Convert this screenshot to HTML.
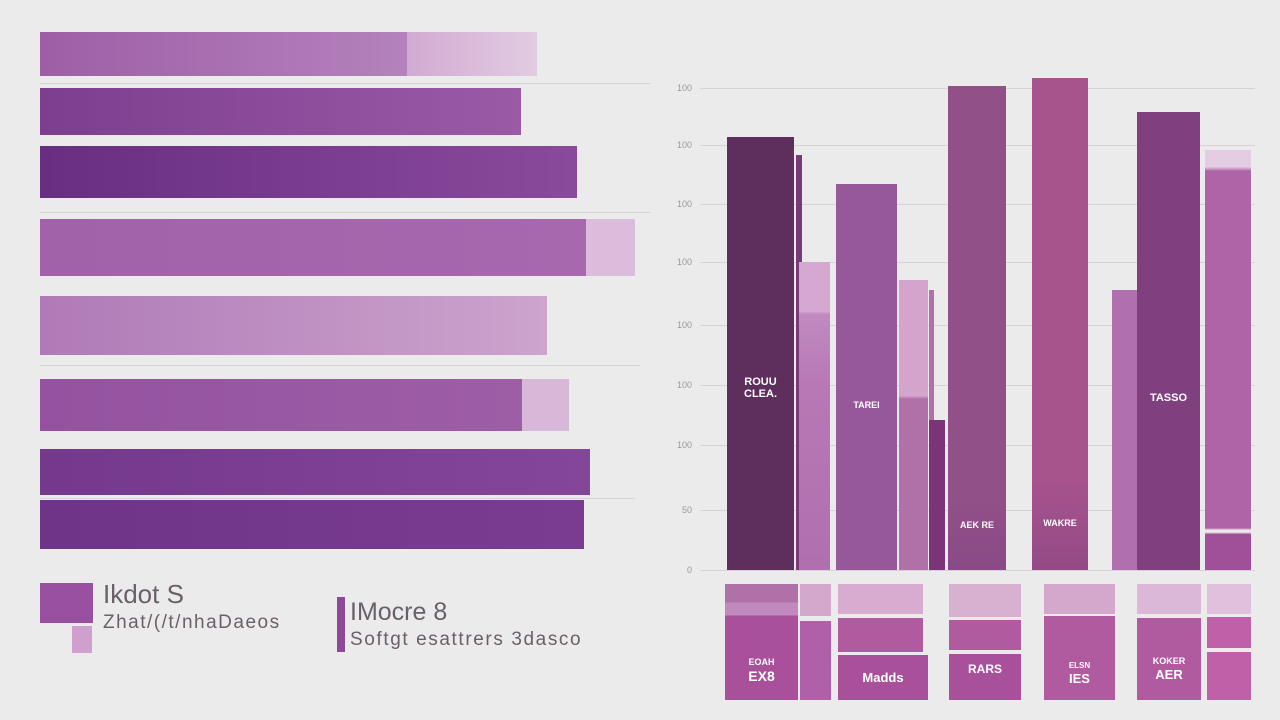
<!DOCTYPE html>
<html><head><meta charset="utf-8"><style>
body{margin:0;width:1280px;height:720px;background:#ecebec;position:relative;overflow:hidden;font-family:"Liberation Sans",sans-serif}
div{position:absolute}
.g{height:1px;background:#d8d2d8}
.t{color:#fff;font-weight:bold;font-size:11px;text-align:center}
.yl{left:668px;width:24px;font-size:9px;color:#999;text-align:right}
</style></head><body>
<div class="g" style="left:40px;top:83px;width:610px"></div>
<div class="g" style="left:40px;top:212px;width:610px"></div>
<div class="g" style="left:40px;top:365px;width:600px"></div>
<div class="g" style="left:40px;top:498px;width:595px"></div>
<div style="left:40px;top:32px;width:367px;height:44px;background:linear-gradient(90deg,#9e5ea6,#b482bc)"></div>
<div style="left:407px;top:32px;width:130px;height:44px;background:linear-gradient(90deg,#d2aad2,#e2cce2)"></div>
<div style="left:40px;top:88px;width:481px;height:47px;background:linear-gradient(90deg,#7e3e90,#9a5aa6)"></div>
<div style="left:40px;top:146px;width:537px;height:52px;background:linear-gradient(90deg,#682e82,#8a4a9c)"></div>
<div style="left:40px;top:219px;width:546px;height:57px;background:linear-gradient(90deg,#a262aa,#a868ae)"></div>
<div style="left:586px;top:219px;width:49px;height:57px;background:#dcbcdc"></div>
<div style="left:40px;top:296px;width:507px;height:59px;background:linear-gradient(90deg,#b07ab8,#cca4cc)"></div>
<div style="left:40px;top:379px;width:482px;height:52px;background:linear-gradient(90deg,#9452a0,#9e5ea6)"></div>
<div style="left:522px;top:379px;width:47px;height:52px;background:#d8b8d8"></div>
<div style="left:40px;top:449px;width:550px;height:46px;background:linear-gradient(90deg,#74388c,#844698)"></div>
<div style="left:40px;top:500px;width:544px;height:49px;background:linear-gradient(90deg,#6e3488,#7a3c90)"></div>
<div style="left:40px;top:583px;width:53px;height:40px;background:#9a50a0"></div>
<div style="left:72px;top:626px;width:20px;height:27px;background:#d0a0cc"></div>
<div style="left:103px;top:579px;font-size:26px;color:#6a6068">Ikdot S</div>
<div style="left:103px;top:612px;font-size:19px;letter-spacing:1.5px;color:#6a6068">Zhat/(/t/nhaDaeos</div>
<div style="left:337px;top:597px;width:8px;height:55px;background:#8a4a98"></div>
<div style="left:350px;top:598px;font-size:25px;color:#6a6068">IMocre 8</div>
<div style="left:350px;top:629px;font-size:19px;letter-spacing:1.6px;color:#6a6068">Softgt esattrers 3dasco</div>
<div class="g" style="left:700px;top:88px;width:555px"></div>
<div class="g" style="left:700px;top:145px;width:555px"></div>
<div class="g" style="left:700px;top:204px;width:555px"></div>
<div class="g" style="left:700px;top:262px;width:555px"></div>
<div class="g" style="left:700px;top:325px;width:555px"></div>
<div class="g" style="left:700px;top:385px;width:555px"></div>
<div class="g" style="left:700px;top:445px;width:555px"></div>
<div class="g" style="left:700px;top:510px;width:555px"></div>
<div class="g" style="left:700px;top:570px;width:555px"></div>
<div class="yl" style="top:83px">100</div><div class="yl" style="top:140px">100</div>
<div class="yl" style="top:199px">100</div><div class="yl" style="top:257px">100</div>
<div class="yl" style="top:320px">100</div><div class="yl" style="top:380px">100</div>
<div class="yl" style="top:440px">100</div><div class="yl" style="top:505px">50</div>
<div class="yl" style="top:565px">0</div>
<div style="left:727px;top:137px;width:67px;height:433px;background:#5e2e5c"></div>
<div class="t" style="left:727px;top:376px;width:67px">ROUU<br>CLEA.</div>
<div style="left:796px;top:155px;width:6px;height:415px;background:#7a3a78"></div>
<div style="left:799px;top:262px;width:31px;height:308px;background:linear-gradient(#d4a8d0 0,#d4a8d0 16%,#c08ac0 17%,#b878b4 40%,#b070b0)"></div>
<div style="left:836px;top:184px;width:61px;height:386px;background:#965898"></div>
<div class="t" style="left:836px;top:400px;width:61px;font-size:9px">TAREI</div>
<div style="left:899px;top:280px;width:29px;height:290px;background:linear-gradient(#d4a4cc 0,#d4a4cc 40%,#b070a8 41%)"></div>
<div style="left:929px;top:290px;width:5px;height:280px;background:#b070a8"></div>
<div style="left:929px;top:420px;width:16px;height:150px;background:#7a3478"></div>
<div style="left:948px;top:86px;width:58px;height:484px;background:linear-gradient(#925088 85%,#8a4a86)"></div>
<div class="t" style="left:948px;top:520px;width:58px;font-size:9px">AEK RE</div>
<div style="left:1032px;top:78px;width:56px;height:492px;background:linear-gradient(#a8548c 80%,#944a86)"></div>
<div class="t" style="left:1032px;top:518px;width:56px;font-size:9px">WAKRE</div>
<div style="left:1112px;top:290px;width:28px;height:280px;background:#b070b0"></div>
<div style="left:1137px;top:112px;width:63px;height:458px;background:#804080"></div>
<div class="t" style="left:1137px;top:392px;width:63px">TASSO</div>
<div style="left:1205px;top:150px;width:46px;height:420px;background:linear-gradient(#e4cce2 0,#e4cce2 4%,#b064a8 5%,#b064a8 90%,#ece8ec 90.5%,#ece8ec 91%,#a05098 91.5%)"></div>
<div style="left:725px;top:584px;width:73px;height:116px;background:linear-gradient(#b070a8 0,#b070a8 16%,#c08abc 16%,#c08abc 27%,#a8509a 27%)"></div>
<div class="t" style="left:725px;top:652px;width:73px;font-size:14px"><span style="font-size:9px">EOAH</span><br>EX8</div>
<div style="left:800px;top:584px;width:31px;height:32px;background:#d4a8cc"></div>
<div style="left:800px;top:621px;width:31px;height:79px;background:#b060a8"></div>
<div style="left:838px;top:584px;width:85px;height:30px;background:#d8acd0"></div>
<div style="left:838px;top:618px;width:85px;height:34px;background:#b05aa0"></div>
<div style="left:838px;top:655px;width:90px;height:45px;background:#a8509a"></div>
<div class="t" style="left:838px;top:670px;width:90px;font-size:13px">Madds</div>
<div style="left:949px;top:584px;width:72px;height:33px;background:#d8b0d0"></div>
<div style="left:949px;top:620px;width:72px;height:30px;background:#b05aa0"></div>
<div style="left:949px;top:654px;width:72px;height:46px;background:#a8509a"></div>
<div class="t" style="left:949px;top:662px;width:72px;font-size:12px">RARS</div>
<div style="left:1044px;top:584px;width:71px;height:30px;background:#d4a8cc"></div>
<div style="left:1044px;top:616px;width:71px;height:84px;background:#b05aa0"></div>
<div class="t" style="left:1044px;top:656px;width:71px;font-size:13px"><span style="font-size:8px">ELSN</span><br>IES</div>
<div style="left:1137px;top:584px;width:64px;height:30px;background:#dcb8d8"></div>
<div style="left:1137px;top:618px;width:64px;height:82px;background:#b05aa0"></div>
<div class="t" style="left:1137px;top:652px;width:64px;font-size:13px"><span style="font-size:9px">KOKER</span><br>AER</div>
<div style="left:1207px;top:584px;width:44px;height:30px;background:#e0c0dc"></div>
<div style="left:1207px;top:617px;width:44px;height:31px;background:#c060a8"></div>
<div style="left:1207px;top:652px;width:44px;height:48px;background:#c060a8"></div>
</body></html>
